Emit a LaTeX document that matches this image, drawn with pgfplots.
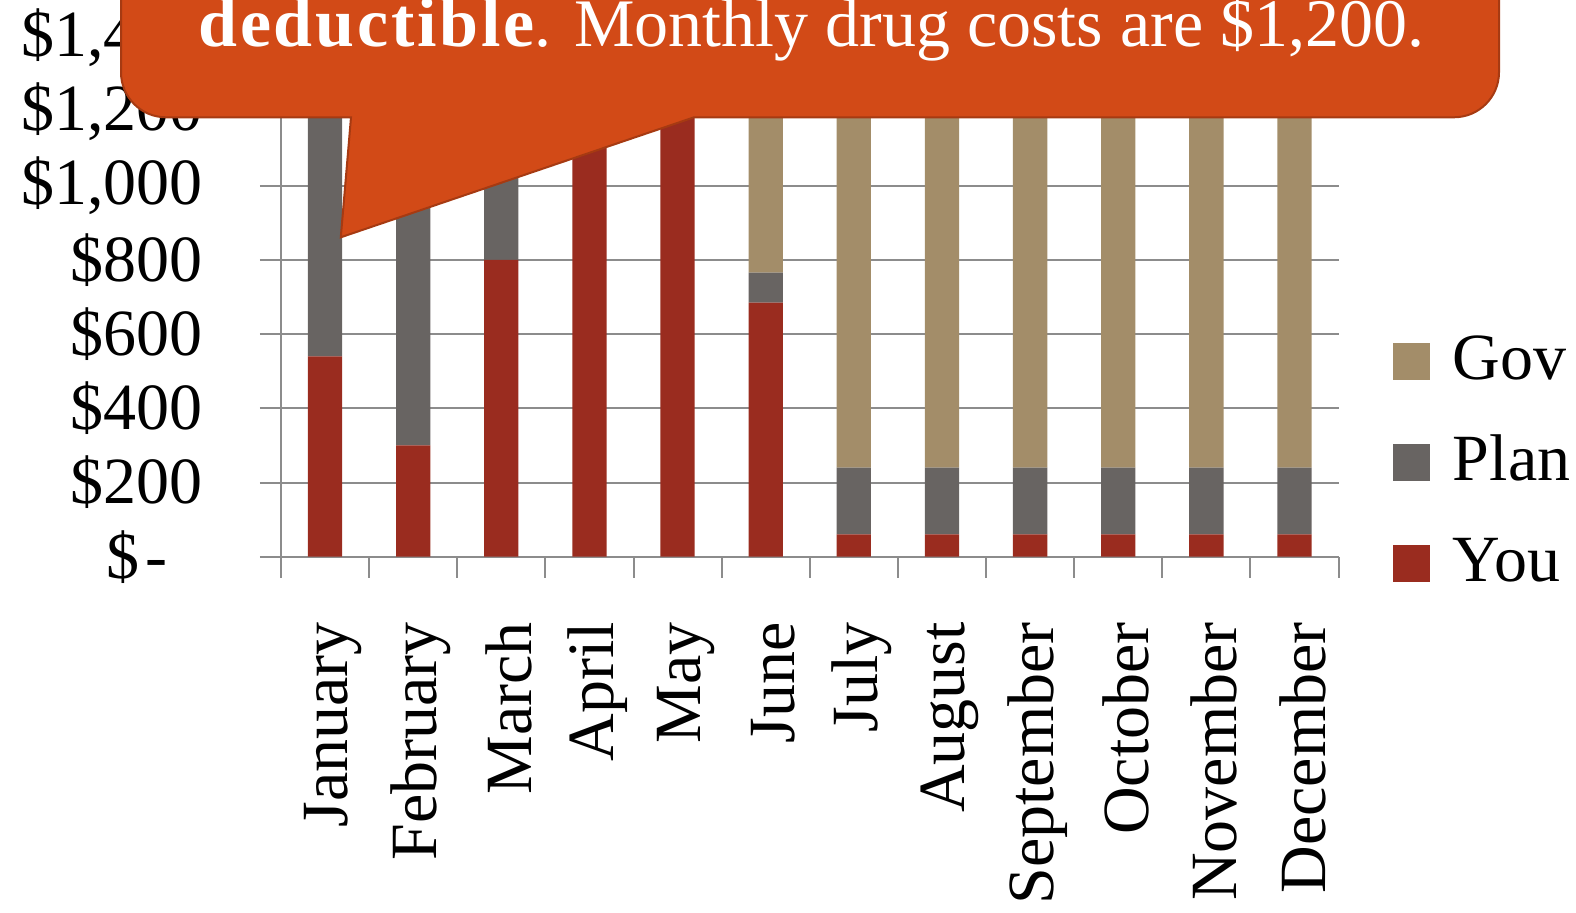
\documentclass[border=0pt]{standalone}
\usepackage{pgfplots}
\pgfplotsset{compat=1.18}
\usepackage{fontspec}
\setmainfont{Liberation Serif}
\definecolor{you}{HTML}{9A2C1F}
\definecolor{plan}{HTML}{686462}
\definecolor{gov}{HTML}{A38D69}
\definecolor{gridgray}{HTML}{8C8C8C}
\definecolor{callout}{HTML}{D24A17}
\definecolor{calloutedge}{HTML}{A63A12}
\pgfplotsset{sqleg/.style={legend image code/.code={\fill[##1] (0pt,-11pt) rectangle (18.5pt,7.5pt);}}}
\newcommand{\bigfont}{\fontsize{33}{40}\selectfont}
\begin{document}
\begin{tikzpicture}[x=1pt,y=1pt]
\useasboundingbox (0,0) rectangle (788,456);
\clip (0,0) rectangle (788,456);
\begin{axis}[
  at={(140.5pt,177.65pt)}, anchor=south west,
  scale only axis, width=528.75pt, height=278.25pt,
  xmin=-0.5, xmax=11.5, ymin=0, ymax=1500,
  ybar stacked, bar width=0.39,
  axis x line=bottom, axis y line=left,
  axis line style={draw=gridgray, line width=1pt, -},
  tick align=outside, major tick length=10.5pt,
  tick style={draw=gridgray, line width=1pt},
  ymajorgrids, grid style={draw=gridgray, line width=1pt},
  ytick={0,200,400,600,800,1000,1200,1400},
  yticklabels={{\$\hspace{3pt}-\hspace*{17.5pt}},{\$200},{\$400},{\$600},{\$800},{\$1,000},{\$1,200},{\$1,400}},
  yticklabel style={font=\bigfont, inner sep=0pt, anchor=east, xshift=-28.5pt},
  xtick={-0.5,0.5,...,11.5},
  x tick label as interval,
  xticklabels={January,February,March,April,May,June,July,August,September,October,November,December},
  xticklabel style={font=\bigfont, inner sep=0pt, yshift=-22pt, xshift=4pt, rotate=90, anchor=east},
  reverse legend,
  legend cell align=left,
  legend style={at={(axis description cs:1.0515,0.3966)}, anchor=north west,
    draw=none, fill=none, inner sep=0pt, outer sep=0pt, row sep=28.5pt,
    nodes={inner sep=0pt, text height=22pt, text depth=0pt},
    /tikz/every odd column/.append style={column sep=11.5pt},
    font=\bigfont},
]
\addplot[fill=you, draw=none, sqleg] coordinates {(0,540) (1,300) (2,800) (3,1200) (4,1200) (5,685) (6,60) (7,60) (8,60) (9,60) (10,60) (11,60)};
\addplot[fill=plan, draw=none, sqleg] coordinates {(0,660) (1,900) (2,400) (3,0) (4,0) (5,81) (6,180) (7,180) (8,180) (9,180) (10,180) (11,180)};
\addplot[fill=gov, draw=none, sqleg] coordinates {(0,0) (1,0) (2,0) (3,0) (4,0) (5,434) (6,960) (7,960) (8,960) (9,960) (10,960) (11,960)};
\legend{You,Plan,Gov}
\end{axis}
\filldraw[fill=callout, draw=calloutedge, line width=1pt]
  (60.5,470) -- (60.5,419.85) arc[start angle=180, end angle=270, radius=22.5]
  -- (175.5,397.35) -- (170.4,337.35) -- (347,397.35) -- (727,397.35)
  arc[start angle=270, end angle=360, radius=22.5] -- (749.5,470) -- cycle;
\node[anchor=base west, text=white, inner sep=0pt, font=\fontsize{34}{42}\selectfont] at (99,432.65) {{\fontsize{35}{42}\selectfont\bfseries\addfontfeature{LetterSpace=4}deductible}. Monthly drug costs are \$1,200.};
\end{tikzpicture}
\end{document}
